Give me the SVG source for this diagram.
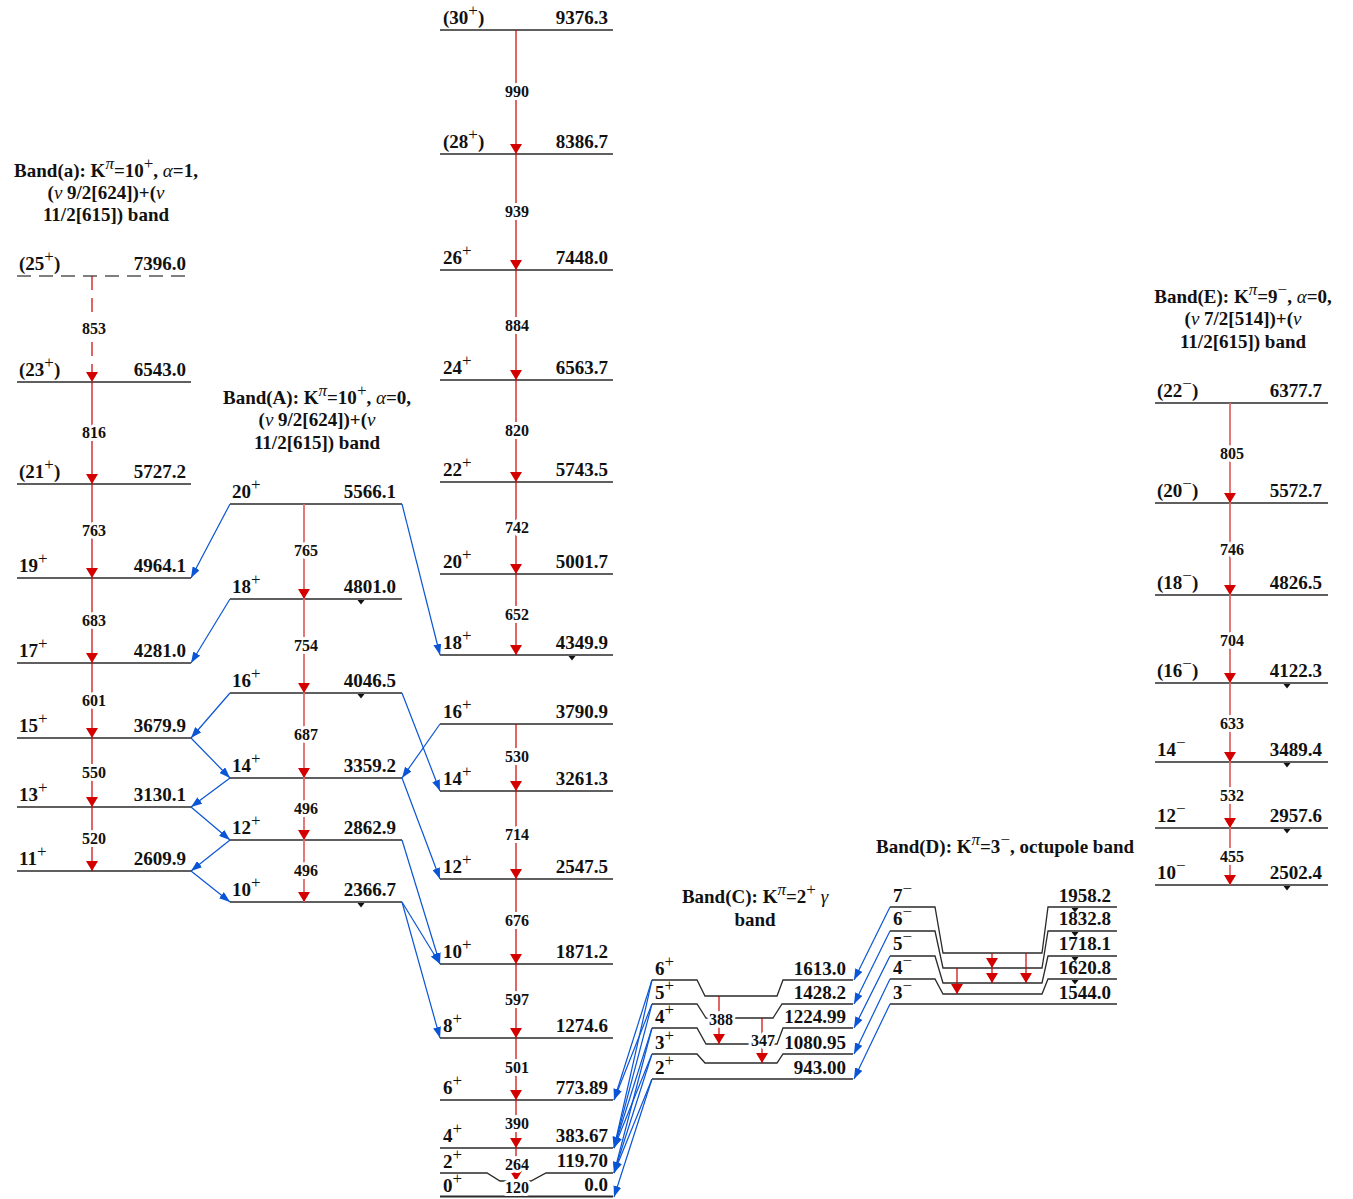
<svg xmlns="http://www.w3.org/2000/svg" width="1353" height="1199" viewBox="0 0 1353 1199">
<style>
.lv{stroke:#2a2a2a;stroke-width:1.3;fill:none}
.dl{stroke:#555;stroke-width:1.5;fill:none;stroke-dasharray:14,8}
.t{font-family:"Liberation Serif","Times New Roman",serif;font-weight:bold;font-size:19px;fill:#111}
.e{text-anchor:end}
.m{text-anchor:middle}
.g{font-size:16px;text-anchor:middle;stroke:#fff;stroke-width:6;paint-order:stroke;stroke-linejoin:round}
.s{font-weight:normal;font-size:17px}
.i{font-style:italic;font-weight:normal}
.r{stroke:#cc0000;stroke-width:1.2;fill:none;marker-end:url(#ra)}
.rl{stroke:#e06a6a;stroke-width:1.8;fill:none;marker-end:url(#ra)}
.rd{stroke:#cc0000;stroke-width:1.2;fill:none;stroke-dasharray:14,8;marker-end:url(#ra)}
.b{stroke:#0a55d5;stroke-width:1.2;fill:none;marker-end:url(#ba)}
</style>
<defs>
<marker id="ra" viewBox="0 0 10 12" refX="10" refY="6" markerWidth="10" markerHeight="12" markerUnits="userSpaceOnUse" orient="auto"><path d="M0,0 L10,6 L0,12 z" fill="#d40000"/></marker>
<marker id="ba" viewBox="0 0 11 8" refX="11" refY="4" markerWidth="11" markerHeight="8" markerUnits="userSpaceOnUse" orient="auto"><path d="M0,0 L11,4 L0,8 z" fill="#0a55d5"/></marker>
<path id="tri" d="M-3.5,0 L3.5,0 L0,4.5 z" fill="#111"/>
</defs>
<rect width="1353" height="1199" fill="#fff"/>

<!-- Titles -->
<g id="title-a" class="t m">
<text x="106" y="177">Band(a): K<tspan class="s i" dy="-8">π</tspan><tspan dy="8">=10</tspan><tspan class="s" dy="-8">+</tspan><tspan dy="8">, </tspan><tspan class="i">α</tspan>=1,</text>
<text x="106" y="199">(<tspan class="i">ν</tspan> 9/2[624])+(<tspan class="i">ν</tspan></text>
<text x="106" y="221">11/2[615]) band</text>
</g>
<g id="title-A" class="t m">
<text x="317" y="404">Band(A): K<tspan class="s i" dy="-8">π</tspan><tspan dy="8">=10</tspan><tspan class="s" dy="-8">+</tspan><tspan dy="8">, </tspan><tspan class="i">α</tspan>=0,</text>
<text x="317" y="426">(<tspan class="i">ν</tspan> 9/2[624])+(<tspan class="i">ν</tspan></text>
<text x="317" y="449">11/2[615]) band</text>
</g>
<g id="title-E" class="t m">
<text x="1243" y="303">Band(E): K<tspan class="s i" dy="-8">π</tspan><tspan dy="8">=9</tspan><tspan class="s" dy="-8">−</tspan><tspan dy="8">, </tspan><tspan class="i">α</tspan>=0,</text>
<text x="1243" y="325">(<tspan class="i">ν</tspan> 7/2[514])+(<tspan class="i">ν</tspan></text>
<text x="1243" y="348">11/2[615]) band</text>
</g>
<g id="title-C" class="t m">
<text x="755" y="903">Band(C): K<tspan class="s i" dy="-8">π</tspan><tspan dy="8">=2</tspan><tspan class="s" dy="-8">+</tspan><tspan dy="8"> </tspan><tspan class="i">γ</tspan></text>
<text x="755" y="926">band</text>
</g>
<g id="title-D" class="t m">
<text x="1005" y="853">Band(D): K<tspan class="s i" dy="-8">π</tspan><tspan dy="8">=3</tspan><tspan class="s" dy="-8">−</tspan><tspan dy="8">, octupole band</tspan></text>
</g>

<!-- Band (a) levels -->
<g id="band-a" class="t">
<line class="dl" x1="17" y1="276" x2="191" y2="276"/>
<line class="lv" x1="17" y1="382" x2="191" y2="382"/>
<line class="lv" x1="17" y1="484" x2="191" y2="484"/>
<line class="lv" x1="17" y1="578" x2="191" y2="578"/>
<line class="lv" x1="17" y1="663" x2="191" y2="663"/>
<line class="lv" x1="17" y1="738" x2="191" y2="738"/>
<line class="lv" x1="17" y1="807" x2="191" y2="807"/>
<line class="lv" x1="17" y1="871" x2="191" y2="871"/>
<text x="19" y="270">(25<tspan class="s" dy="-8">+</tspan><tspan dy="8">)</tspan></text><text class="e" x="186" y="270">7396.0</text>
<text x="19" y="376">(23<tspan class="s" dy="-8">+</tspan><tspan dy="8">)</tspan></text><text class="e" x="186" y="376">6543.0</text>
<text x="19" y="478">(21<tspan class="s" dy="-8">+</tspan><tspan dy="8">)</tspan></text><text class="e" x="186" y="478">5727.2</text>
<text x="19" y="572">19<tspan class="s" dy="-8">+</tspan></text><text class="e" x="186" y="572">4964.1</text>
<text x="19" y="657">17<tspan class="s" dy="-8">+</tspan></text><text class="e" x="186" y="657">4281.0</text>
<text x="19" y="732">15<tspan class="s" dy="-8">+</tspan></text><text class="e" x="186" y="732">3679.9</text>
<text x="19" y="801">13<tspan class="s" dy="-8">+</tspan></text><text class="e" x="186" y="801">3130.1</text>
<text x="19" y="865">11<tspan class="s" dy="-8">+</tspan></text><text class="e" x="186" y="865">2609.9</text>
</g>

<!-- Band (A) levels -->
<g id="band-A" class="t">
<line class="lv" x1="230" y1="504" x2="402" y2="504"/>
<line class="lv" x1="230" y1="599" x2="402" y2="599"/>
<line class="lv" x1="230" y1="693" x2="402" y2="693"/>
<line class="lv" x1="230" y1="778" x2="402" y2="778"/>
<line class="lv" x1="230" y1="840" x2="402" y2="840"/>
<line class="lv" x1="230" y1="902" x2="402" y2="902"/>
<text x="232" y="498">20<tspan class="s" dy="-8">+</tspan></text><text class="e" x="396" y="498">5566.1</text>
<text x="232" y="593">18<tspan class="s" dy="-8">+</tspan></text><text class="e" x="396" y="593">4801.0</text>
<text x="232" y="687">16<tspan class="s" dy="-8">+</tspan></text><text class="e" x="396" y="687">4046.5</text>
<text x="232" y="772">14<tspan class="s" dy="-8">+</tspan></text><text class="e" x="396" y="772">3359.2</text>
<text x="232" y="834">12<tspan class="s" dy="-8">+</tspan></text><text class="e" x="396" y="834">2862.9</text>
<text x="232" y="896">10<tspan class="s" dy="-8">+</tspan></text><text class="e" x="396" y="896">2366.7</text>
<use href="#tri" x="361" y="600"/><use href="#tri" x="361" y="694"/><use href="#tri" x="361" y="903"/>
</g>

<!-- Ground band levels -->
<g id="band-g" class="t">
<line class="lv" x1="440" y1="30" x2="613" y2="30"/>
<line class="lv" x1="440" y1="154" x2="613" y2="154"/>
<line class="lv" x1="440" y1="270" x2="613" y2="270"/>
<line class="lv" x1="440" y1="380" x2="613" y2="380"/>
<line class="lv" x1="440" y1="482" x2="613" y2="482"/>
<line class="lv" x1="440" y1="574" x2="613" y2="574"/>
<line class="lv" x1="440" y1="655" x2="613" y2="655"/>
<line class="lv" x1="440" y1="724" x2="613" y2="724"/>
<line class="lv" x1="440" y1="791" x2="613" y2="791"/>
<line class="lv" x1="440" y1="879" x2="613" y2="879"/>
<line class="lv" x1="440" y1="964" x2="613" y2="964"/>
<line class="lv" x1="440" y1="1038" x2="613" y2="1038"/>
<line class="lv" x1="440" y1="1100" x2="613" y2="1100"/>
<line class="lv" x1="440" y1="1148" x2="613" y2="1148"/>
<polyline class="lv" points="440,1173 487,1173 500,1181 531,1181 546,1173 613,1173"/>
<line class="lv" x1="440" y1="1196.5" x2="613" y2="1196.5" style="stroke-width:2"/>
<text x="443" y="24">(30<tspan class="s" dy="-8">+</tspan><tspan dy="8">)</tspan></text><text class="e" x="608" y="24">9376.3</text>
<text x="443" y="148">(28<tspan class="s" dy="-8">+</tspan><tspan dy="8">)</tspan></text><text class="e" x="608" y="148">8386.7</text>
<text x="443" y="264">26<tspan class="s" dy="-8">+</tspan></text><text class="e" x="608" y="264">7448.0</text>
<text x="443" y="374">24<tspan class="s" dy="-8">+</tspan></text><text class="e" x="608" y="374">6563.7</text>
<text x="443" y="476">22<tspan class="s" dy="-8">+</tspan></text><text class="e" x="608" y="476">5743.5</text>
<text x="443" y="568">20<tspan class="s" dy="-8">+</tspan></text><text class="e" x="608" y="568">5001.7</text>
<text x="443" y="649">18<tspan class="s" dy="-8">+</tspan></text><text class="e" x="608" y="649">4349.9</text>
<text x="443" y="718">16<tspan class="s" dy="-8">+</tspan></text><text class="e" x="608" y="718">3790.9</text>
<text x="443" y="785">14<tspan class="s" dy="-8">+</tspan></text><text class="e" x="608" y="785">3261.3</text>
<text x="443" y="873">12<tspan class="s" dy="-8">+</tspan></text><text class="e" x="608" y="873">2547.5</text>
<text x="443" y="958">10<tspan class="s" dy="-8">+</tspan></text><text class="e" x="608" y="958">1871.2</text>
<text x="443" y="1032">8<tspan class="s" dy="-8">+</tspan></text><text class="e" x="608" y="1032">1274.6</text>
<text x="443" y="1094">6<tspan class="s" dy="-8">+</tspan></text><text class="e" x="608" y="1094">773.89</text>
<text x="443" y="1142">4<tspan class="s" dy="-8">+</tspan></text><text class="e" x="608" y="1142">383.67</text>
<text x="443" y="1168">2<tspan class="s" dy="-8">+</tspan></text><text class="e" x="608" y="1167">119.70</text>
<text x="443" y="1192">0<tspan class="s" dy="-8">+</tspan></text><text class="e" x="608" y="1191">0.0</text>
<use href="#tri" x="572" y="656"/>
</g>

<!-- Band (C) levels -->
<g id="band-C" class="t">
<polyline class="lv" points="652,980 697,980 705,996 777,996 783,980 853,980"/>
<polyline class="lv" points="652,1004 697,1004 706,1018 773,1018 782,1004 853,1004"/>
<polyline class="lv" points="652,1028 697,1028 706,1044 777,1044 783,1028 853,1028"/>
<polyline class="lv" points="652,1054 697,1054 705,1063 777,1063 783,1054 853,1054"/>
<line class="lv" x1="652" y1="1079" x2="853" y2="1079"/>
<text x="655" y="975">6<tspan class="s" dy="-8">+</tspan></text><text class="e" x="846" y="975">1613.0</text>
<text x="655" y="999">5<tspan class="s" dy="-8">+</tspan></text><text class="e" x="846" y="999">1428.2</text>
<text x="655" y="1023">4<tspan class="s" dy="-8">+</tspan></text><text class="e" x="846" y="1023">1224.99</text>
<text x="655" y="1049">3<tspan class="s" dy="-8">+</tspan></text><text class="e" x="846" y="1049">1080.95</text>
<text x="655" y="1074">2<tspan class="s" dy="-8">+</tspan></text><text class="e" x="846" y="1074">943.00</text>
</g>

<!-- Band (D) levels -->
<g id="band-D" class="t">
<polyline class="lv" points="890,907 935,907 943,953 1042,953 1048,907 1117,907"/>
<polyline class="lv" points="890,931 935,931 943,968 1042,968 1048,931 1117,931"/>
<polyline class="lv" points="890,956 935,956 943,983 1042,983 1048,956 1117,956"/>
<polyline class="lv" points="890,979 935,979 943,994 1042,994 1048,979 1117,979"/>
<line class="lv" x1="890" y1="1004" x2="1117" y2="1004"/>
<text x="893" y="902">7<tspan class="s" dy="-8">−</tspan></text><text class="e" x="1111" y="902">1958.2</text>
<text x="893" y="925">6<tspan class="s" dy="-8">−</tspan></text><text class="e" x="1111" y="925">1832.8</text>
<text x="893" y="950">5<tspan class="s" dy="-8">−</tspan></text><text class="e" x="1111" y="950">1718.1</text>
<text x="893" y="974">4<tspan class="s" dy="-8">−</tspan></text><text class="e" x="1111" y="974">1620.8</text>
<text x="893" y="999">3<tspan class="s" dy="-8">−</tspan></text><text class="e" x="1111" y="999">1544.0</text>
<use href="#tri" x="1075" y="908"/><use href="#tri" x="1075" y="932"/><use href="#tri" x="1075" y="957"/><use href="#tri" x="1075" y="980"/>
</g>

<!-- Band (E) levels -->
<g id="band-E" class="t">
<line class="lv" x1="1155" y1="403" x2="1328" y2="403"/>
<line class="lv" x1="1155" y1="503" x2="1328" y2="503"/>
<line class="lv" x1="1155" y1="595" x2="1328" y2="595"/>
<line class="lv" x1="1155" y1="683" x2="1328" y2="683"/>
<line class="lv" x1="1155" y1="762" x2="1328" y2="762"/>
<line class="lv" x1="1155" y1="828" x2="1328" y2="828"/>
<line class="lv" x1="1155" y1="885" x2="1328" y2="885"/>
<text x="1157" y="397">(22<tspan class="s" dy="-8">−</tspan><tspan dy="8">)</tspan></text><text class="e" x="1322" y="397">6377.7</text>
<text x="1157" y="497">(20<tspan class="s" dy="-8">−</tspan><tspan dy="8">)</tspan></text><text class="e" x="1322" y="497">5572.7</text>
<text x="1157" y="589">(18<tspan class="s" dy="-8">−</tspan><tspan dy="8">)</tspan></text><text class="e" x="1322" y="589">4826.5</text>
<text x="1157" y="677">(16<tspan class="s" dy="-8">−</tspan><tspan dy="8">)</tspan></text><text class="e" x="1322" y="677">4122.3</text>
<text x="1157" y="756">14<tspan class="s" dy="-8">−</tspan></text><text class="e" x="1322" y="756">3489.4</text>
<text x="1157" y="822">12<tspan class="s" dy="-8">−</tspan></text><text class="e" x="1322" y="822">2957.6</text>
<text x="1157" y="879">10<tspan class="s" dy="-8">−</tspan></text><text class="e" x="1322" y="879">2502.4</text>
<use href="#tri" x="1287" y="684"/><use href="#tri" x="1287" y="763"/><use href="#tri" x="1287" y="829"/><use href="#tri" x="1287" y="886"/>
</g>

<!-- Connectors -->
<g id="connectors">
<line class="rd" x1="92" y1="276" x2="92" y2="382"/>
<line class="r" x1="92" y1="382" x2="92" y2="484"/>
<line class="r" x1="92" y1="484" x2="92" y2="578"/>
<line class="r" x1="92" y1="578" x2="92" y2="663"/>
<line class="r" x1="92" y1="663" x2="92" y2="738"/>
<line class="r" x1="92" y1="738" x2="92" y2="807"/>
<line class="r" x1="92" y1="807" x2="92" y2="871"/>
<line class="rl" x1="304" y1="504" x2="304" y2="599"/>
<line class="rl" x1="304" y1="599" x2="304" y2="693"/>
<line class="rl" x1="304" y1="693" x2="304" y2="778"/>
<line class="rl" x1="304" y1="778" x2="304" y2="840"/>
<line class="rl" x1="304" y1="840" x2="304" y2="902"/>
<line class="r" x1="516" y1="30" x2="516" y2="154"/>
<line class="r" x1="516" y1="154" x2="516" y2="270"/>
<line class="r" x1="516" y1="270" x2="516" y2="380"/>
<line class="r" x1="516" y1="380" x2="516" y2="482"/>
<line class="r" x1="516" y1="482" x2="516" y2="574"/>
<line class="r" x1="516" y1="574" x2="516" y2="655"/>
<line class="r" x1="516" y1="724" x2="516" y2="791"/>
<line class="r" x1="516" y1="791" x2="516" y2="879"/>
<line class="r" x1="516" y1="879" x2="516" y2="964"/>
<line class="r" x1="516" y1="964" x2="516" y2="1038"/>
<line class="r" x1="516" y1="1038" x2="516" y2="1100"/>
<line class="r" x1="516" y1="1100" x2="516" y2="1148"/>
<line class="r" x1="516" y1="1148" x2="516" y2="1181"/>
<line class="rl" x1="1230" y1="403" x2="1230" y2="503"/>
<line class="rl" x1="1230" y1="503" x2="1230" y2="595"/>
<line class="rl" x1="1230" y1="595" x2="1230" y2="683"/>
<line class="rl" x1="1230" y1="683" x2="1230" y2="762"/>
<line class="rl" x1="1230" y1="762" x2="1230" y2="828"/>
<line class="rl" x1="1230" y1="828" x2="1230" y2="885"/>
<line class="r" x1="719" y1="996" x2="719" y2="1044"/>
<line class="r" x1="762" y1="1018" x2="762" y2="1063"/>
<line class="r" x1="957" y1="968" x2="957" y2="994"/>
<line class="r" x1="992" y1="953" x2="992" y2="968"/>
<line class="r" x1="992" y1="968" x2="992" y2="983"/>
<line class="r" x1="1026" y1="953" x2="1026" y2="983"/>
<line class="b" x1="230" y1="504" x2="191" y2="578"/>
<line class="b" x1="230" y1="599" x2="191" y2="663"/>
<line class="b" x1="230" y1="693" x2="191" y2="738"/>
<line class="b" x1="191" y1="738" x2="230" y2="778"/>
<line class="b" x1="230" y1="778" x2="191" y2="807"/>
<line class="b" x1="191" y1="807" x2="230" y2="840"/>
<line class="b" x1="230" y1="840" x2="191" y2="871"/>
<line class="b" x1="191" y1="871" x2="230" y2="902"/>
<line class="b" x1="402" y1="504" x2="440" y2="655"/>
<line class="b" x1="402" y1="693" x2="440" y2="791"/>
<line class="b" x1="440" y1="724" x2="402" y2="778"/>
<line class="b" x1="402" y1="778" x2="440" y2="879"/>
<line class="b" x1="402" y1="840" x2="440" y2="964"/>
<line class="b" x1="402" y1="902" x2="440" y2="964"/>
<line class="b" x1="402" y1="902" x2="440" y2="1038"/>
<line class="b" x1="652" y1="980" x2="614" y2="1100"/>
<line class="b" x1="652" y1="980" x2="614" y2="1148"/>
<line class="b" x1="652" y1="1004" x2="614" y2="1100"/>
<line class="b" x1="652" y1="1004" x2="614" y2="1148"/>
<line class="b" x1="652" y1="1028" x2="614" y2="1148"/>
<line class="b" x1="652" y1="1028" x2="614" y2="1173"/>
<line class="b" x1="652" y1="1054" x2="614" y2="1148"/>
<line class="b" x1="652" y1="1054" x2="614" y2="1173"/>
<line class="b" x1="652" y1="1079" x2="614" y2="1173"/>
<line class="b" x1="652" y1="1079" x2="614" y2="1197"/>
<line class="b" x1="890" y1="907" x2="854" y2="980"/>
<line class="b" x1="890" y1="931" x2="854" y2="1004"/>
<line class="b" x1="890" y1="956" x2="854" y2="1028"/>
<line class="b" x1="890" y1="979" x2="854" y2="1054"/>
<line class="b" x1="890" y1="1004" x2="854" y2="1079"/>
</g>

<!-- Transition labels -->
<g id="gamma-labels" class="t">
<text class="g" x="94" y="334">853</text>
<text class="g" x="94" y="438">816</text>
<text class="g" x="94" y="536">763</text>
<text class="g" x="94" y="626">683</text>
<text class="g" x="94" y="706">601</text>
<text class="g" x="94" y="778">550</text>
<text class="g" x="94" y="844">520</text>
<text class="g" x="306" y="556">765</text>
<text class="g" x="306" y="651">754</text>
<text class="g" x="306" y="740">687</text>
<text class="g" x="306" y="814">496</text>
<text class="g" x="306" y="876">496</text>
<text class="g" x="517" y="97">990</text>
<text class="g" x="517" y="217">939</text>
<text class="g" x="517" y="331">884</text>
<text class="g" x="517" y="436">820</text>
<text class="g" x="517" y="533">742</text>
<text class="g" x="517" y="620">652</text>
<text class="g" x="517" y="762">530</text>
<text class="g" x="517" y="840">714</text>
<text class="g" x="517" y="926">676</text>
<text class="g" x="517" y="1005">597</text>
<text class="g" x="517" y="1073">501</text>
<text class="g" x="517" y="1129">390</text>
<text class="g" x="517" y="1170">264</text>
<text class="g" x="517" y="1193">120</text>
<text class="g" x="1232" y="459">805</text>
<text class="g" x="1232" y="555">746</text>
<text class="g" x="1232" y="646">704</text>
<text class="g" x="1232" y="729">633</text>
<text class="g" x="1232" y="801">532</text>
<text class="g" x="1232" y="862">455</text>
<text class="g" x="721" y="1025">388</text>
<text class="g" x="763" y="1046">347</text>
</g>
</svg>
